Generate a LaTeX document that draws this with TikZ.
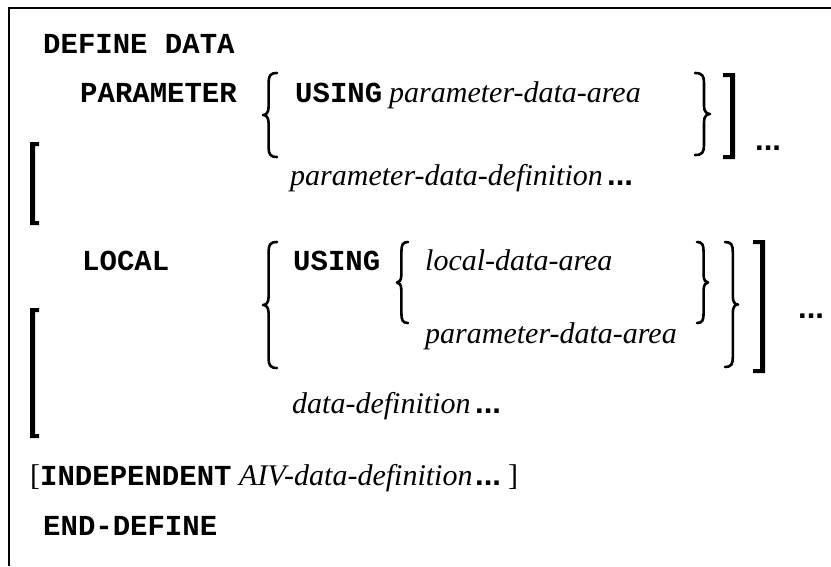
\documentclass[tikz,border=0pt]{standalone}
\usepackage{fontspec}
\setmainfont{Liberation Serif}
\newfontfamily\courfont{Liberation Mono}
\newfontfamily\dotfont{Liberation Sans}
\tikzset{
  kw/.style={anchor=base west,inner sep=0pt,font=\courfont\fontsize{29}{35}\selectfont\bfseries},
  var/.style={anchor=base west,inner sep=0pt,font=\fontsize{30}{36}\selectfont\itshape},
  ell/.style={anchor=base west,inner sep=0pt,font=\dotfont\fontsize{31}{36}\selectfont\bfseries},
  plainbr/.style={anchor=base west,inner sep=0pt,font=\fontsize{30}{36}\selectfont},
  bracestroke/.style={line width=2.6pt,line cap=round,line join=round},
  framestroke/.style={line width=2.2pt}
}
% left curly brace: x, top, bottom, width
\newcommand\mylbr[4]{%
  \draw[bracestroke] ({#1+#4},#2) .. controls ({#1+0.5*#4},#2) and ({#1+0.4*#4},{#2+3}) .. ({#1+0.4*#4},{#2+10})
    -- ({#1+0.4*#4},{(#2+#3)/2-8}) .. controls ({#1+0.4*#4},{(#2+#3)/2-2}) and ({#1+0.2*#4},{(#2+#3)/2}) .. (#1,{(#2+#3)/2})
    .. controls ({#1+0.2*#4},{(#2+#3)/2}) and ({#1+0.4*#4},{(#2+#3)/2+2}) .. ({#1+0.4*#4},{(#2+#3)/2+8})
    -- ({#1+0.4*#4},{#3-10}) .. controls ({#1+0.4*#4},{#3-3}) and ({#1+0.5*#4},#3) .. ({#1+#4},#3);}
% right curly brace: x (left edge), top, bottom, width
\newcommand\myrbr[4]{%
  \draw[bracestroke] (#1,#2) .. controls ({#1+0.5*#4},#2) and ({#1+0.6*#4},{#2+3}) .. ({#1+0.6*#4},{#2+10})
    -- ({#1+0.6*#4},{(#2+#3)/2-8}) .. controls ({#1+0.6*#4},{(#2+#3)/2-2}) and ({#1+0.8*#4},{(#2+#3)/2}) .. ({#1+#4},{(#2+#3)/2})
    .. controls ({#1+0.8*#4},{(#2+#3)/2}) and ({#1+0.6*#4},{(#2+#3)/2+2}) .. ({#1+0.6*#4},{(#2+#3)/2+8})
    -- ({#1+0.6*#4},{#3-10}) .. controls ({#1+0.6*#4},{#3-3}) and ({#1+0.5*#4},#3) .. (#1,#3);}
% left square bracket: x, top, bottom
\newcommand\mylsq[3]{%
  \fill (#1,#2) -- ({#1+9},#2) -- ({#1+9},{#2+4}) -- ({#1+5},{#2+4}) -- ({#1+5},{#3-4}) -- ({#1+9},{#3-4}) -- ({#1+9},#3) -- (#1,#3) -- cycle;}
% right square bracket: x (right edge), top, bottom
\newcommand\myrsq[3]{%
  \fill (#1,#2) -- ({#1-12},#2) -- ({#1-12},{#2+4}) -- ({#1-5},{#2+4}) -- ({#1-5},{#3-4}) -- ({#1-12},{#3-4}) -- ({#1-12},#3) -- (#1,#3) -- cycle;}
\begin{document}
\begin{tikzpicture}[x=1pt,y=-1pt]
\useasboundingbox (0,0) rectangle (831,566);
\fill[white] (0,0) rectangle (831,566);
% frame
\draw[framestroke] (9,566) -- (9,8) -- (831,8);

% line 1
\node[kw] (dd) at (43,53) {DEFINE DATA};

% PARAMETER block
\node[kw] (par) at (80,102) {PARAMETER};
\node[kw] (pusing) at (295,102) {USING};
\node[var] (pda) at (389,102) {parameter-data-area};
\node[var] (pdd) at (290,185) {parameter-data-definition};
\node[ell] (pdddots) at (607,185) {...};
\node[ell] (pardots) at (755,150) {...};
\mylbr{263}{73}{157}{14}
\myrbr{695}{73}{155}{15}
\mylsq{30}{142}{225}
\myrsq{735}{73}{159}

% LOCAL block
\node[kw] (loc) at (82,270) {LOCAL};
\node[kw] (lusing) at (293,270) {USING};
\node[var] (lda) at (425,270) {local-data-area};
\node[var] (lpda) at (425,343) {parameter-data-area};
\node[var] (ldd) at (292,413) {data-definition};
\node[ell] (ldddots) at (475,413) {...};
\node[ell] (locdots) at (798,318) {...};
\mylbr{263}{242}{368}{14}
\mylbr{397}{242}{323}{11}
\myrbr{697}{242}{323}{11}
\myrbr{725}{242}{367}{13}
\mylsq{30}{308}{438}
\myrsq{765}{240}{373}

% INDEPENDENT line
\node[plainbr] (ob) at (30,485) {[};
\node[kw] (ind) at (40,485) {INDEPENDENT};
\node[var] (aiv) at (239,485) {AIV-data-definition};
\node[ell] (aivdots) at (475,485) {...};
\node[plainbr] (cb) at (508,485) {]};

% END-DEFINE
\node[kw] (ed) at (43,535) {END-DEFINE};
\end{tikzpicture}
\end{document}
